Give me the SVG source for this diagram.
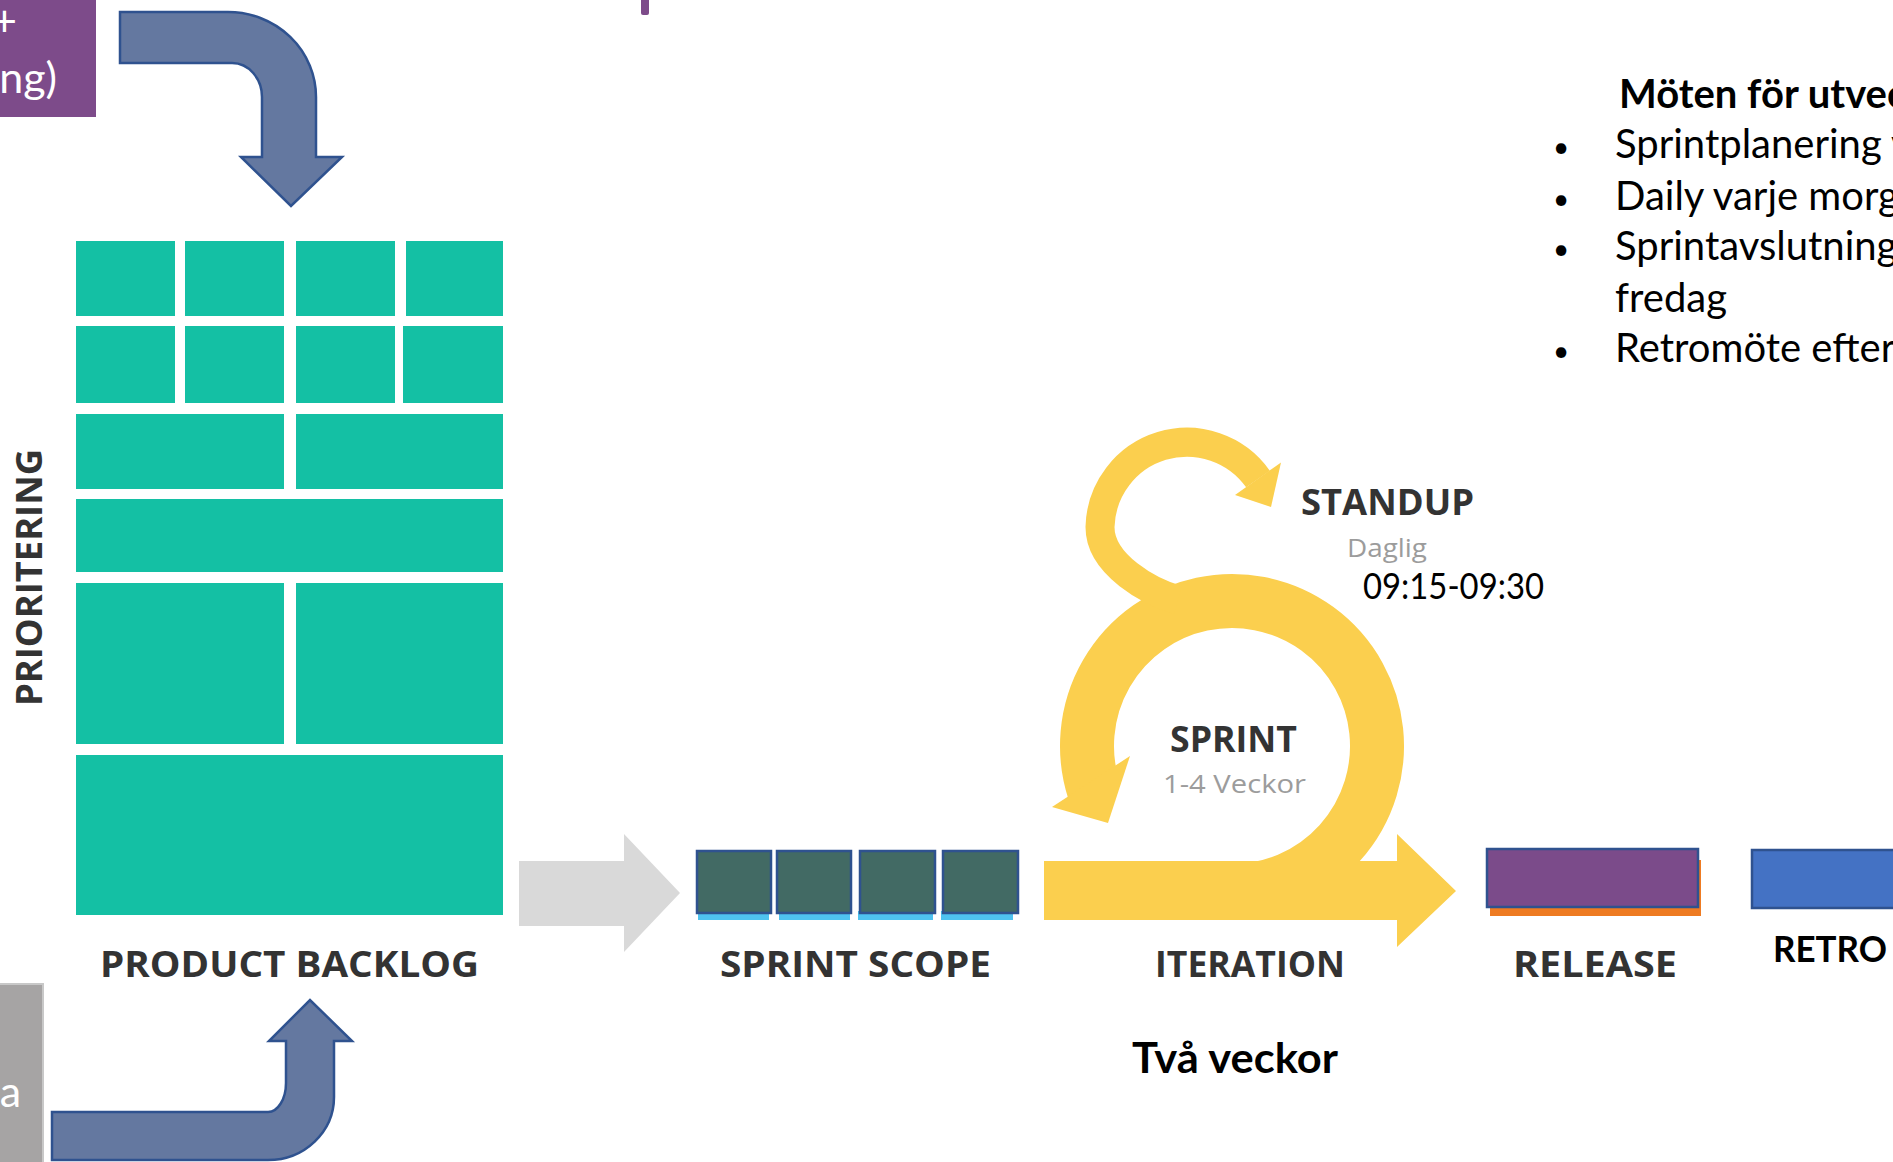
<svg xmlns="http://www.w3.org/2000/svg" width="1893" height="1162" viewBox="0 0 1893 1162">
<style>
.lbl{font-family:"Open Sans","Liberation Sans",sans-serif;font-weight:700;fill:#333;font-size:35px}
.sub{font-family:"Open Sans","Liberation Sans",sans-serif;fill:#9c9c9c;font-size:26px}
.cal{font-family:Lato,"Liberation Sans",sans-serif;fill:#000}
.wt{font-family:Lato,"Liberation Sans",sans-serif;fill:#fff;font-size:43px}
.bul{font-size:28px}
.tile{fill:#14c0a4}
.blue{fill:#6478a0;stroke:#2f528f;stroke-width:2.5}
.yel{fill:#fbcf4e}
.ring{fill:none;stroke:#fbcf4e}
.sq{fill:#426a64;stroke:#2f528f;stroke-width:2.5}
.ul{fill:#4fc3f0}
</style>
<rect width="1893" height="1162" fill="#fff"/>

<g id="purple-box-top">
<rect x="0" y="0" width="96" height="117" fill="#7d4b8a"/>
<text class="wt" x="17" y="36" text-anchor="end">+</text>
<text class="wt" x="57" y="93" text-anchor="end">ng)</text>
</g>
<g id="purple-bar-top"><rect x="641" y="-4" width="8" height="19" rx="2" fill="#7d4b8a"/></g>

<g id="grey-box-bottom">
<rect x="-2" y="984" width="45" height="180" fill="#a6a4a4" stroke="#c8c8c8" stroke-width="2"/>
<text class="wt" x="21" y="1107" text-anchor="end">a</text>
</g>

<g id="product-backlog">
<rect class="tile" x="76" y="241" width="99" height="75"/>
<rect class="tile" x="185" y="241" width="99" height="75"/>
<rect class="tile" x="296" y="241" width="99" height="75"/>
<rect class="tile" x="406" y="241" width="97" height="75"/>
<rect class="tile" x="76" y="326" width="99" height="77"/>
<rect class="tile" x="185" y="326" width="99" height="77"/>
<rect class="tile" x="296" y="326" width="99" height="77"/>
<rect class="tile" x="403" y="326" width="100" height="77"/>
<rect class="tile" x="76" y="414" width="208" height="75"/>
<rect class="tile" x="296" y="414" width="207" height="75"/>
<rect class="tile" x="76" y="499" width="427" height="73"/>
<rect class="tile" x="76" y="583" width="208" height="161"/>
<rect class="tile" x="296" y="583" width="207" height="161"/>
<rect class="tile" x="76" y="755" width="427" height="160"/>
<text class="lbl" x="100" y="977" textLength="379" lengthAdjust="spacingAndGlyphs">PRODUCT BACKLOG</text>
<text class="lbl" transform="translate(42,577.5) rotate(-90)" x="0" y="0" text-anchor="middle" font-size="38" textLength="257" lengthAdjust="spacingAndGlyphs">PRIORITERING</text>
</g>

<g id="sprint-scope">
<rect class="ul" x="698" y="911" width="71" height="9"/>
<rect class="ul" x="779" y="911" width="71" height="9"/>
<rect class="ul" x="858" y="911" width="75" height="9"/>
<rect class="ul" x="941" y="911" width="72" height="9"/>
<rect class="sq" x="697" y="851" width="74" height="62"/>
<rect class="sq" x="777" y="851" width="74" height="62"/>
<rect class="sq" x="860" y="851" width="75" height="62"/>
<rect class="sq" x="943" y="851" width="75" height="62"/>
<text class="lbl" x="720" y="977" textLength="271" lengthAdjust="spacingAndGlyphs">SPRINT  SCOPE</text>
</g>

<g id="iteration">
<path class="ring" stroke-width="54" d="M1232,891 A145,145 0 1 0 1094.1,790.8"/>
<polygon class="yel" points="1130,756 1052,807 1108,823"/>
<path class="ring" stroke-width="29" d="M1178,600 C1150,592 1100,565 1100,527 A87,87 0 0 1 1258,479"/>
<polygon class="yel" points="1281,462.5 1235,495 1271,507"/>
<text class="lbl" x="1301" y="515" textLength="173" lengthAdjust="spacingAndGlyphs">STANDUP</text>
<text class="sub" x="1347" y="557" textLength="80" lengthAdjust="spacingAndGlyphs">Daglig</text>
<text class="cal" x="1363" y="599" font-size="36" textLength="181" lengthAdjust="spacingAndGlyphs">09:15-09:30</text>
<text class="lbl" x="1170" y="752" textLength="127" lengthAdjust="spacingAndGlyphs">SPRINT</text>
<text class="sub" x="1163" y="793" textLength="143" lengthAdjust="spacingAndGlyphs">1-4 Veckor</text>
<text class="lbl" x="1155" y="977" textLength="190" lengthAdjust="spacingAndGlyphs">ITERATION</text>
</g>

<g id="release">
<rect x="1490" y="860" width="211" height="56" fill="#ee7b22"/>
<rect x="1487" y="849" width="211" height="58" fill="#7b4b8a" stroke="#2f528f" stroke-width="2.5"/>
<text class="lbl" x="1513" y="977" textLength="164" lengthAdjust="spacingAndGlyphs">RELEASE</text>
</g>

<g id="retro">
<rect x="1752" y="850" width="160" height="58" fill="#4472c4" stroke="#2f528f" stroke-width="2.5"/>
<text class="cal" x="1773" y="962" font-size="37" font-weight="700" textLength="114" lengthAdjust="spacingAndGlyphs">RETRO</text>
</g>

<g id="duration">
<text class="cal" x="1132" y="1073" font-size="42" font-weight="700" textLength="206" lengthAdjust="spacingAndGlyphs">Två veckor</text>
</g>

<g id="meetings" class="cal" font-size="40">
<text x="1619" y="108" font-weight="700">Möten för utvec</text>
<text class="bul" x="1561" y="157" text-anchor="middle">•</text>
<text x="1615" y="158">Sprintplanering v</text>
<text class="bul" x="1561" y="209" text-anchor="middle">•</text>
<text x="1615" y="210">Daily varje morg</text>
<text class="bul" x="1561" y="259" text-anchor="middle">•</text>
<text x="1615" y="260">Sprintavslutning</text>
<text x="1615" y="312">fredag</text>
<text class="bul" x="1561" y="361" text-anchor="middle">•</text>
<text x="1615" y="362">Retromöte efter</text>
</g>

<g id="connectors">
<path class="blue" d="M120,12 H228 A88,85 0 0 1 316,97 V157 H342 L291,206 L241,157 H262 V97 A30,34 0 0 0 232,63 H120 Z"/>
<path class="blue" d="M52,1112 H268 A18,29 0 0 0 286,1083 V1041 H269 L310,1000 L352,1041 H334 V1097 A66,63 0 0 1 268,1160 H52 Z"/>
<path fill="#d9d9d9" d="M519,861 H624 V834 L680,893 L624,952 V926 H519 Z"/>
<path class="yel" d="M1044,861 H1397 V834 L1456,891 L1397,947 V920 H1044 Z"/>
</g>
</svg>
